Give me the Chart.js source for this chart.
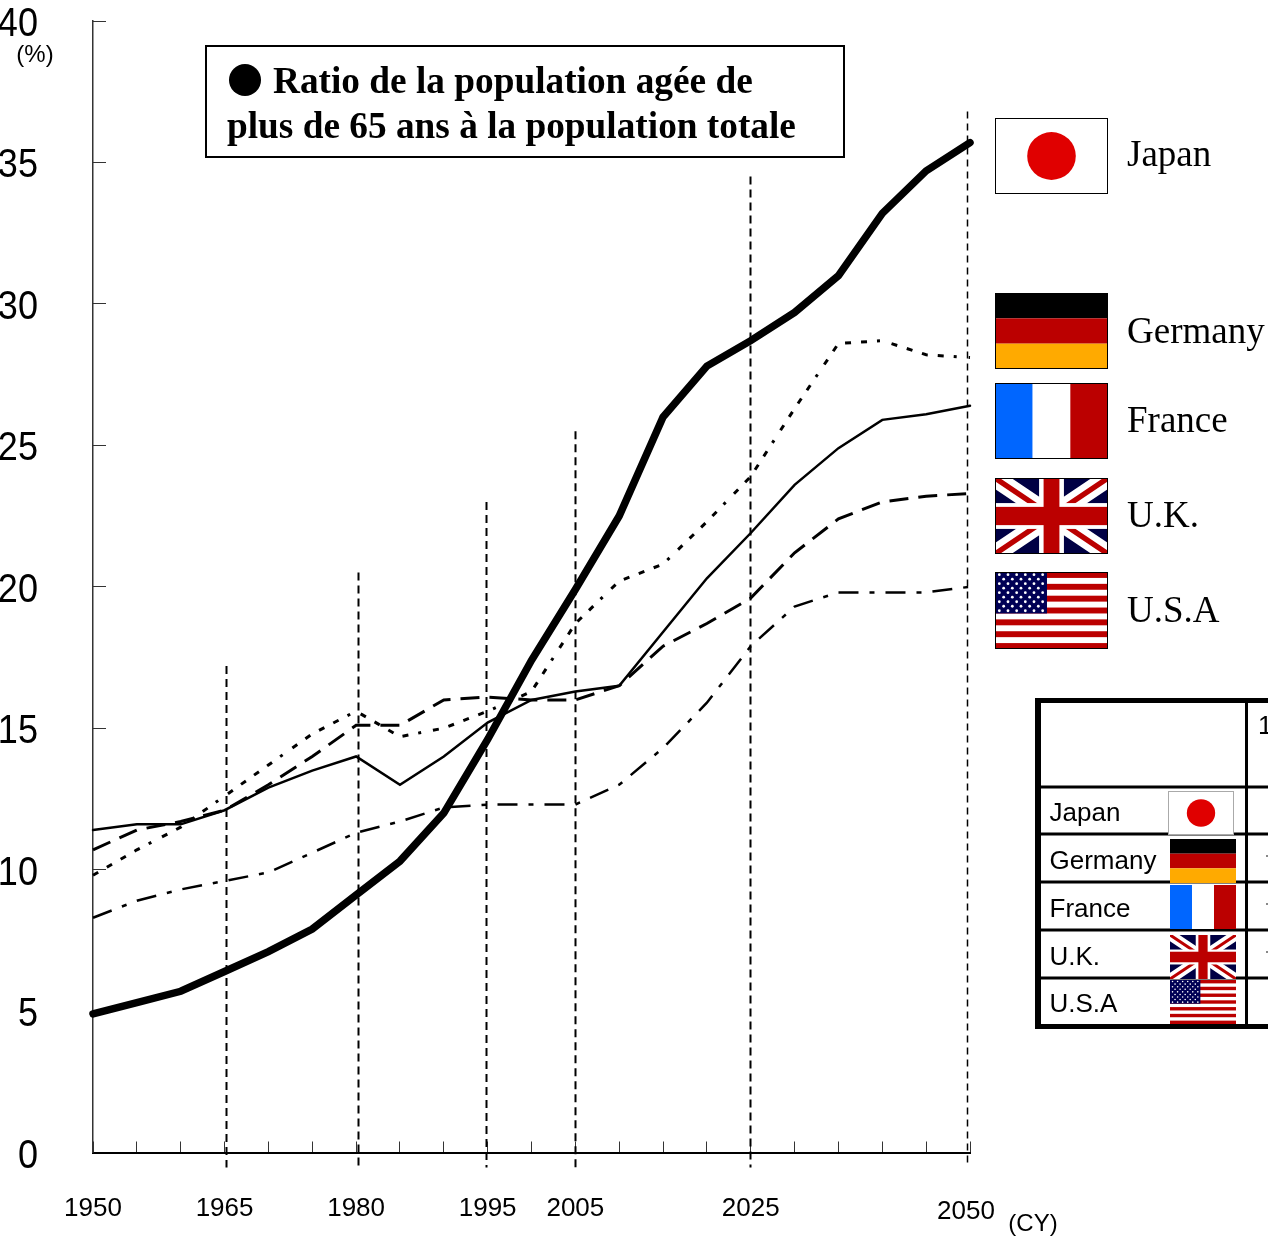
<!DOCTYPE html>
<html>
<head>
<meta charset="utf-8">
<title>Ratio de la population agée</title>
<script src="https://cdn.jsdelivr.net/npm/chart.js@4"></script>
<style>
  html, body { margin: 0; padding: 0; background: #fff; overflow: hidden; }
  canvas { display: block; }
</style>
</head>
<body>
<canvas id="chartPop" width="1268" height="1236"></canvas>
<script>
const years = [1950, 1955, 1960, 1965, 1970, 1975, 1980, 1985, 1990, 1995, 2000,
  2005, 2010, 2015, 2020, 2025, 2030, 2035, 2040, 2045, 2050];
const japan = [4.9, 5.3, 5.7, 6.4, 7.1, 7.9, 9.1, 10.3, 12.0, 14.6, 17.4,
  19.9, 22.5, 26.0, 27.8, 28.7, 29.7, 31.0, 33.2, 34.7, 35.7];
const germany = [9.8, 10.7, 11.5, 12.6, 13.7, 14.8, 15.6, 14.7, 15.0, 15.6, 16.3,
  18.7, 20.2, 20.8, 22.3, 23.9, 26.3, 28.6, 28.7, 28.2, 28.1];
const france = [11.4, 11.6, 11.6, 12.1, 12.9, 13.5, 14.0, 13.0, 14.0, 15.2, 16.0,
  16.3, 16.5, 18.4, 20.3, 21.9, 23.6, 24.9, 25.9, 26.1, 26.4];
const uk = [10.7, 11.4, 11.7, 12.1, 13.0, 14.0, 15.1, 15.1, 16.0, 16.1, 16.0,
  16.0, 16.5, 17.9, 18.7, 19.6, 21.2, 22.4, 23.0, 23.2, 23.3];
const usa = [8.3, 8.9, 9.3, 9.6, 9.9, 10.6, 11.3, 11.7, 12.2, 12.3, 12.3,
  12.3, 13.0, 14.3, 15.9, 17.9, 19.3, 19.8, 19.8, 19.8, 20.0];

const labeledYears = [1950, 1965, 1980, 1995, 2005, 2025];
const guideYears = [1965, 1980, 1995, 2005, 2025, 2050];
const guideTops = [17.2, 20.5, 23, 25.5, 34.5, 36.8];
const countries = ["Japan", "Germany", "France", "U.K.", "U.S.A"];
const titleLines = ["Ratio de la population agée de", "plus de 65 ans à la population totale"];

const RED = "#bb0000";
const SANS = '"Liberation Sans", Arial, sans-serif';
const SERIF = '"Liberation Serif", "Times New Roman", serif';

function rect(ctx, color, x, y, w, h) {
  ctx.fillStyle = color;
  ctx.fillRect(x, y, w, h);
}

function text(ctx, str, x, y, font, align) {
  ctx.font = font;
  ctx.fillStyle = "#000";
  ctx.textAlign = align || "left";
  ctx.textBaseline = "alphabetic";
  ctx.fillText(str, x, y);
}

function flagJapan(ctx, x, y, w, h, frame) {
  rect(ctx, "#fff", x, y, w, h);
  ctx.fillStyle = "#e00000";
  ctx.beginPath();
  ctx.ellipse(x + w / 2, y + h / 2, w * 0.215, h * 0.315, 0, 0, Math.PI * 2);
  ctx.fill();
  ctx.strokeStyle = frame;
  ctx.lineWidth = 1;
  ctx.strokeRect(x + 0.5, y + 0.5, w - 1, h - 1);
}

function flagGermany(ctx, x, y, w, h) {
  rect(ctx, "#000", x, y, w, h / 3);
  rect(ctx, RED, x, y + h / 3, w, h / 3);
  rect(ctx, "#ffaa00", x, y + h * 2 / 3, w, h / 3);
}

function flagFrance(ctx, x, y, w, h) {
  rect(ctx, "#0066ff", x, y, w / 3, h);
  rect(ctx, "#fff", x + w / 3, y, w / 3, h);
  rect(ctx, RED, x + w * 2 / 3, y, w / 3, h);
}

function flagUk(ctx, x, y, w, h) {
  ctx.save();
  ctx.beginPath();
  ctx.rect(x, y, w, h);
  ctx.clip();
  rect(ctx, "#000044", x, y, w, h);
  const diagonal = (color, width) => {
    ctx.strokeStyle = color;
    ctx.lineWidth = width;
    ctx.beginPath();
    ctx.moveTo(x, y);
    ctx.lineTo(x + w, y + h);
    ctx.moveTo(x + w, y);
    ctx.lineTo(x, y + h);
    ctx.stroke();
  };
  diagonal("#fff", h * 0.24);
  diagonal(RED, h * 0.07);
  rect(ctx, "#fff", x + w * 0.39, y, w * 0.22, h);
  rect(ctx, "#fff", x, y + h * 0.33, w, h * 0.34);
  rect(ctx, RED, x + w * 0.43, y, w * 0.14, h);
  rect(ctx, RED, x, y + h * 0.38, w, h * 0.24);
  ctx.restore();
}

function flagUsa(ctx, x, y, w, h) {
  const stripe = h / 13;
  rect(ctx, "#fff", x, y, w, h);
  for (let i = 0; i < 13; i += 2) {
    rect(ctx, RED, x, y + i * stripe, w, stripe);
  }
  const cw = w * 0.46;
  const ch = stripe * 7;
  rect(ctx, "#000055", x, y, cw, ch);
  ctx.fillStyle = "#fff";
  const r = h * 0.018;
  for (let row = 0; row < 9; row++) {
    const n = row % 2 ? 5 : 6;
    for (let c = 0; c < n; c++) {
      const sx = x + cw * ((row % 2 ? c + 1 : c + 0.5) / 6);
      const sy = y + ch * ((row + 0.6) / 9.2);
      ctx.beginPath();
      ctx.arc(sx, sy, r, 0, Math.PI * 2);
      ctx.fill();
    }
  }
}

function outlined(ctx, draw, x, y, w, h) {
  draw(ctx, x, y, w, h);
  ctx.strokeStyle = "#000";
  ctx.lineWidth = 1;
  ctx.strokeRect(x + 0.5, y + 0.5, w - 1, h - 1);
}

// dashed year guides, each stopping at its own height and running below the axis
const guidePlugin = {
  id: "guides",
  beforeDatasetsDraw(chart) {
    const { ctx, scales: { x, y } } = chart;
    const nudge = [1, 2, -2, 0, -1, -3.5];
    ctx.save();
    ctx.strokeStyle = "#000";
    guideYears.forEach((yr, i) => {
      const last = yr === 2050;
      const px = Math.round(x.getPixelForValue(yr) + nudge[i]) + 0.5;
      ctx.lineWidth = last ? 1.5 : 2;
      ctx.setLineDash(last ? [7, 5] : [8, 5]);
      ctx.beginPath();
      ctx.moveTo(px, y.getPixelForValue(guideTops[i]));
      ctx.lineTo(px, y.getPixelForValue(0) + 15);
      ctx.stroke();
    });
    ctx.restore();
  }
};

// y axis numbers are drawn condensed, which a tick font cannot do
const yLabelPlugin = {
  id: "yLabels",
  afterDraw(chart) {
    const { ctx, scales: { y } } = chart;
    ctx.save();
    ctx.font = "41px " + SANS;
    ctx.fillStyle = "#000";
    ctx.textAlign = "right";
    ctx.textBaseline = "alphabetic";
    y.ticks.forEach(t => {
      ctx.save();
      ctx.translate(38, y.getPixelForValue(t.value) + 15);
      ctx.scale(0.88, 1);
      ctx.fillText(String(t.value), 0, 0);
      ctx.restore();
    });
    ctx.restore();
  }
};

// title box, flags, country names and the small table on the right
const notesPlugin = {
  id: "notes",
  afterDraw(chart) {
    const ctx = chart.ctx;
    ctx.save();

    text(ctx, "(%)", 35, 62, "24px " + SANS, "center");
    text(ctx, "2050", 966, 1219, "26px " + SANS, "center");
    text(ctx, "(CY)", 1033, 1231, "24px " + SANS, "center");

    ctx.fillStyle = "#fff";
    ctx.fillRect(206, 46, 638, 111);
    ctx.strokeStyle = "#000";
    ctx.lineWidth = 2;
    ctx.strokeRect(206, 46, 638, 111);
    ctx.fillStyle = "#000";
    ctx.beginPath();
    ctx.arc(245, 80, 16, 0, Math.PI * 2);
    ctx.fill();
    text(ctx, titleLines[0], 273, 93, "bold 37.3px " + SERIF);
    text(ctx, titleLines[1], 227, 138, "bold 37.3px " + SERIF);

    // large flags beside the lines
    flagJapan(ctx, 995, 118, 113, 76, "#000");
    outlined(ctx, flagGermany, 995, 293, 113, 76);
    outlined(ctx, flagFrance, 995, 383, 113, 76);
    outlined(ctx, flagUk, 995, 478, 113, 76);
    outlined(ctx, flagUsa, 995, 572, 113, 77);
    const nameBase = [166, 343, 432, 527, 622];
    countries.forEach((name, i) => {
      text(ctx, name, 1127, nameBase[i], "37px " + SERIF);
    });

    // table frame
    const rowLines = [787, 834, 882, 930, 978];
    ctx.fillStyle = "#000";
    rowLines.forEach(ry => ctx.fillRect(1040, ry - 1.5, 228, 3));
    ctx.fillRect(1245, 700, 3, 326);
    ctx.fillRect(1035, 698, 233, 5);
    ctx.fillRect(1035, 1024, 233, 5);
    ctx.fillRect(1035, 698, 6, 331);

    const rowBase = [821, 869, 917, 965, 1012];
    countries.forEach((name, i) => {
      text(ctx, name, 1049.5, rowBase[i], "26px " + SANS);
    });
    text(ctx, "1", 1258, 734, "26px " + SANS);
    [855, 903, 951].forEach(ry => rect(ctx, "#888", 1266, ry, 2, 2));

    flagJapan(ctx, 1168, 791, 66, 44, "#aaa");
    flagGermany(ctx, 1170, 839, 66, 44);
    flagFrance(ctx, 1170, 885, 66, 44);
    flagUk(ctx, 1170, 935, 66, 44);
    flagUsa(ctx, 1170, 980, 66, 44);

    ctx.restore();
  }
};

function series(values, width, dash) {
  return {
    data: years.map((yr, i) => ({ x: yr, y: values[i] })),
    borderColor: "#000",
    borderWidth: width,
    borderDash: dash,
    borderCapStyle: dash.length ? "butt" : "round",
    borderJoinStyle: "miter",
    pointRadius: 0,
    tension: 0,
    fill: false,
    clip: false
  };
}

new Chart(document.getElementById("chartPop"), {
  type: "line",
  data: {
    datasets: [
      series(germany, 3, [6, 10, 6, 10, 6, 10, 6, 10, 3, 12]),
      series(france, 2.5, []),
      series(uk, 3, [19, 10]),
      series(usa, 2.5, [20, 11, 5, 11]),
      series(japan, 7.5, [])
    ]
  },
  options: {
    responsive: false,
    animation: false,
    devicePixelRatio: 1,
    layout: { padding: { top: 21, right: 298, bottom: 0, left: 0 } },
    plugins: { legend: { display: false }, tooltip: { enabled: false } },
    scales: {
      x: {
        type: "linear",
        min: 1950,
        max: 2050,
        afterFit: s => { s.height = 83.5; s.paddingLeft = 0; s.paddingRight = 0; },
        afterBuildTicks: s => { s.ticks = years.map(v => ({ value: v })); },
        grid: { drawOnChartArea: false, tickLength: -11, tickColor: "#333", tickWidth: 1 },
        border: { color: "#000", width: 2 },
        ticks: {
          autoSkip: false,
          maxRotation: 0,
          padding: 52,
          color: "#000",
          font: { family: "Liberation Sans", size: 26 },
          callback: v => (labeledYears.includes(v) ? String(v) : "")
        }
      },
      y: {
        min: 0,
        max: 40,
        afterFit: s => { s.width = 93; s.paddingTop = 0; s.paddingBottom = 0; },
        grid: { drawOnChartArea: false, tickLength: -13, tickColor: "#333", tickWidth: 1 },
        border: { color: "#333", width: 1.5 },
        ticks: { stepSize: 5, display: false }
      }
    }
  },
  plugins: [guidePlugin, yLabelPlugin, notesPlugin]
});
</script>
</body>
</html>
